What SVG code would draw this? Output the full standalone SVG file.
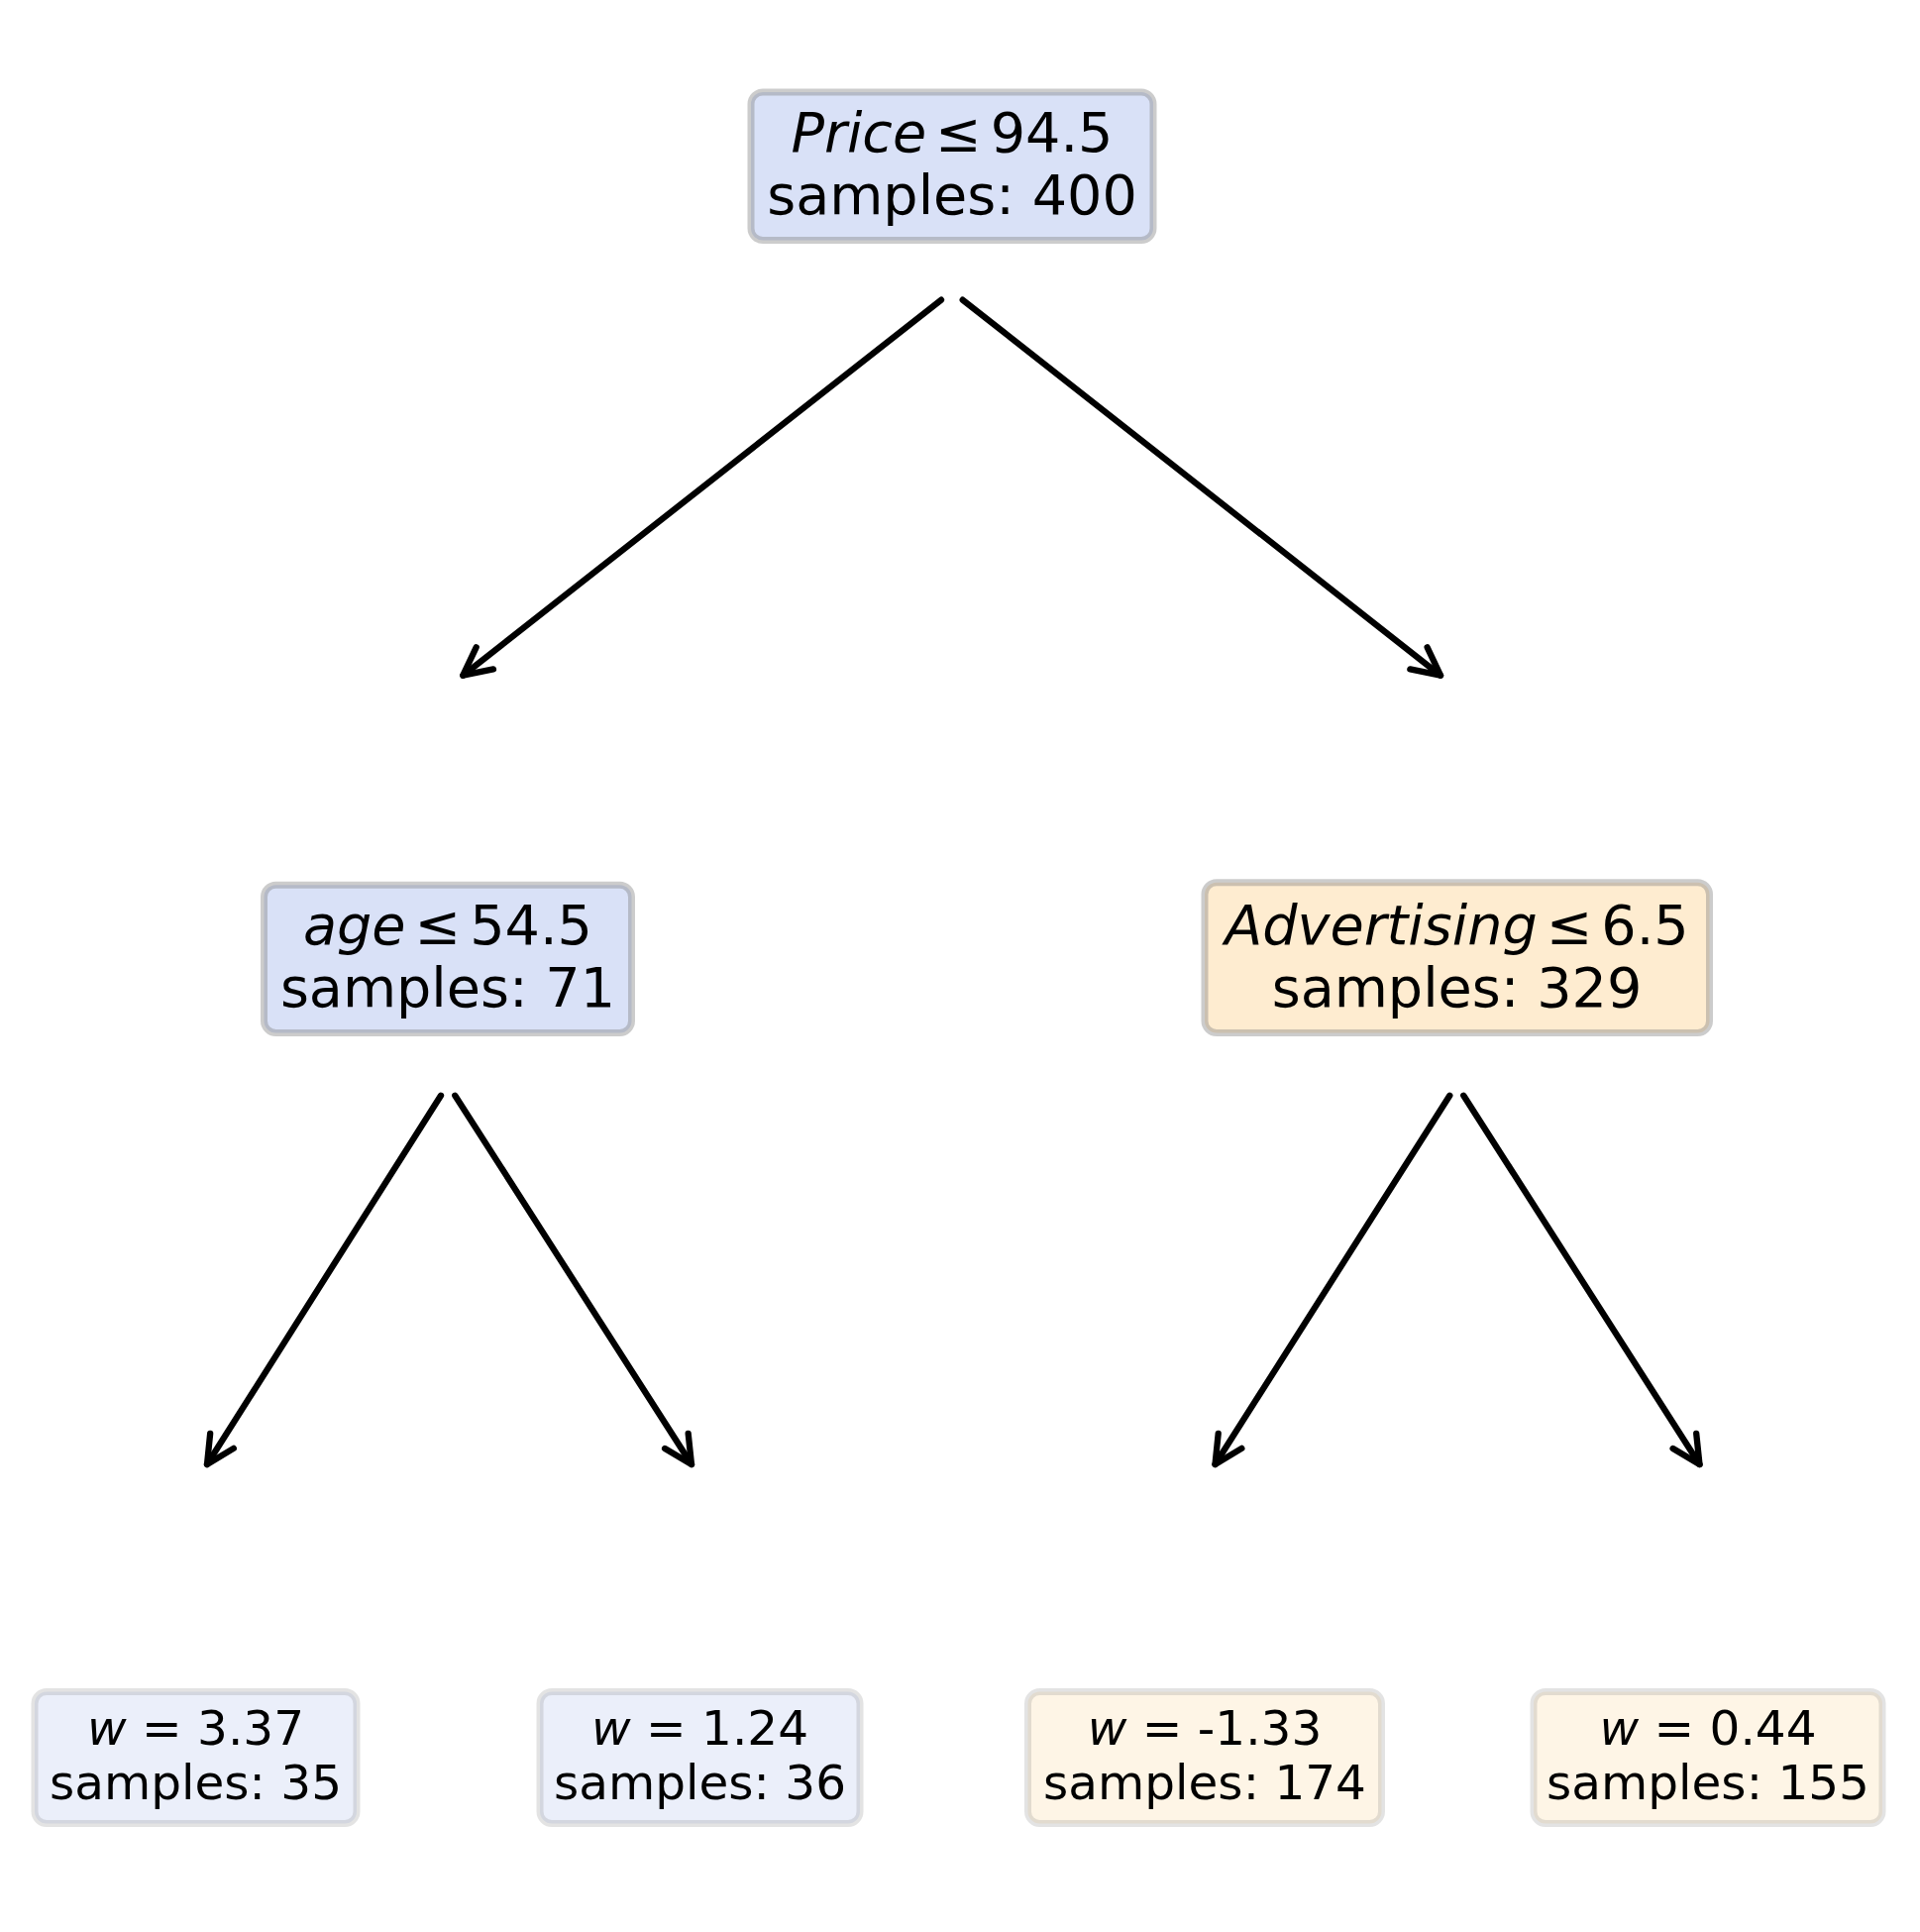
<svg xmlns="http://www.w3.org/2000/svg" width="1938" height="1950" viewBox="0 0 1938 1950">
<style>
  .t { font-family: "DejaVu Sans", "Liberation Sans", sans-serif; fill: #000; text-anchor: middle; }
  .in { font-size: 55.6px; }
  .lf { font-size: 48.5px; }
  .it { font-style: italic; }
  .box { stroke: #808080; stroke-width: 7; stroke-opacity: 0.4; }
  .leaf { stroke: #808080; stroke-width: 7; stroke-opacity: 0.22; }
  .blue { fill: #d9e1f7; }
  .orange { fill: #feecd0; }
  .lblue { fill: #ebeffa; }
  .lorange { fill: #fef5e6; }
  .edge { stroke: #000; stroke-width: 6.3; stroke-linecap: round; fill: none; marker-end: url(#ah); }
</style>
<defs>
  <marker id="ah" markerUnits="userSpaceOnUse" orient="auto" markerWidth="60" markerHeight="60" viewBox="-40 -30 60 60" refX="0" refY="0" overflow="visible">
    <path d="M-28,-14 L0,0 L-28,14" fill="none" stroke="#000" stroke-width="6.3" stroke-linecap="round" stroke-linejoin="round"/>
  </marker>
</defs>
<rect width="1938" height="1950" fill="#ffffff"/>

<g id="connectors">
  <line class="edge" x1="950" y1="302.7" x2="467.3" y2="681.7"/>
  <line class="edge" x1="971.7" y1="302.7" x2="1454" y2="681.7"/>
  <line class="edge" x1="445" y1="1105.7" x2="209" y2="1478"/>
  <line class="edge" x1="459.3" y1="1105.7" x2="698" y2="1478"/>
  <line class="edge" x1="1463.3" y1="1105.7" x2="1226.5" y2="1478"/>
  <line class="edge" x1="1477.3" y1="1105.7" x2="1715.5" y2="1478"/>
</g>

<g id="node-root">
  <rect class="box blue" x="758" y="93" width="406" height="149.5" rx="12"/>
  <text class="t in" x="961" y="152.5"><tspan class="it">Price</tspan><tspan dx="9">≤</tspan><tspan dx="9">94.5</tspan></text>
  <text class="t in" x="961" y="215.5">samples: 400</text>
</g>

<g id="node-age">
  <rect class="box blue" x="266.5" y="893.2" width="371" height="149.3" rx="12"/>
  <text class="t in" x="452" y="952.5"><tspan class="it">age</tspan><tspan dx="9">≤</tspan><tspan dx="9">54.5</tspan></text>
  <text class="t in" x="452" y="1015.5">samples: 71</text>
</g>

<g id="node-advertising">
  <rect class="box orange" x="1216" y="890.8" width="509.5" height="151.7" rx="12"/>
  <text class="t in" x="1470.5" y="952.5"><tspan class="it">Advertising</tspan><tspan dx="9">≤</tspan><tspan dx="9">6.5</tspan></text>
  <text class="t in" x="1470.5" y="1015.5">samples: 329</text>
</g>

<g id="leaf-1">
  <rect class="leaf lblue" x="35" y="1707.5" width="325" height="133" rx="12"/>
  <text class="t lf" x="197.5" y="1760.7"><tspan class="it">w</tspan> = 3.37</text>
  <text class="t lf" x="197.5" y="1816">samples: 35</text>
</g>

<g id="leaf-2">
  <rect class="leaf lblue" x="545" y="1707.5" width="323" height="133" rx="12"/>
  <text class="t lf" x="706.5" y="1760.7"><tspan class="it">w</tspan> = 1.24</text>
  <text class="t lf" x="706.5" y="1816">samples: 36</text>
</g>

<g id="leaf-3">
  <rect class="leaf lorange" x="1037.5" y="1707.5" width="357" height="133" rx="12"/>
  <text class="t lf" x="1216" y="1760.7"><tspan class="it">w</tspan> = -1.33</text>
  <text class="t lf" x="1216" y="1816">samples: 174</text>
</g>

<g id="leaf-4">
  <rect class="leaf lorange" x="1548" y="1707.5" width="352" height="133" rx="12"/>
  <text class="t lf" x="1724" y="1760.7"><tspan class="it">w</tspan> = 0.44</text>
  <text class="t lf" x="1724" y="1816">samples: 155</text>
</g>
</svg>
